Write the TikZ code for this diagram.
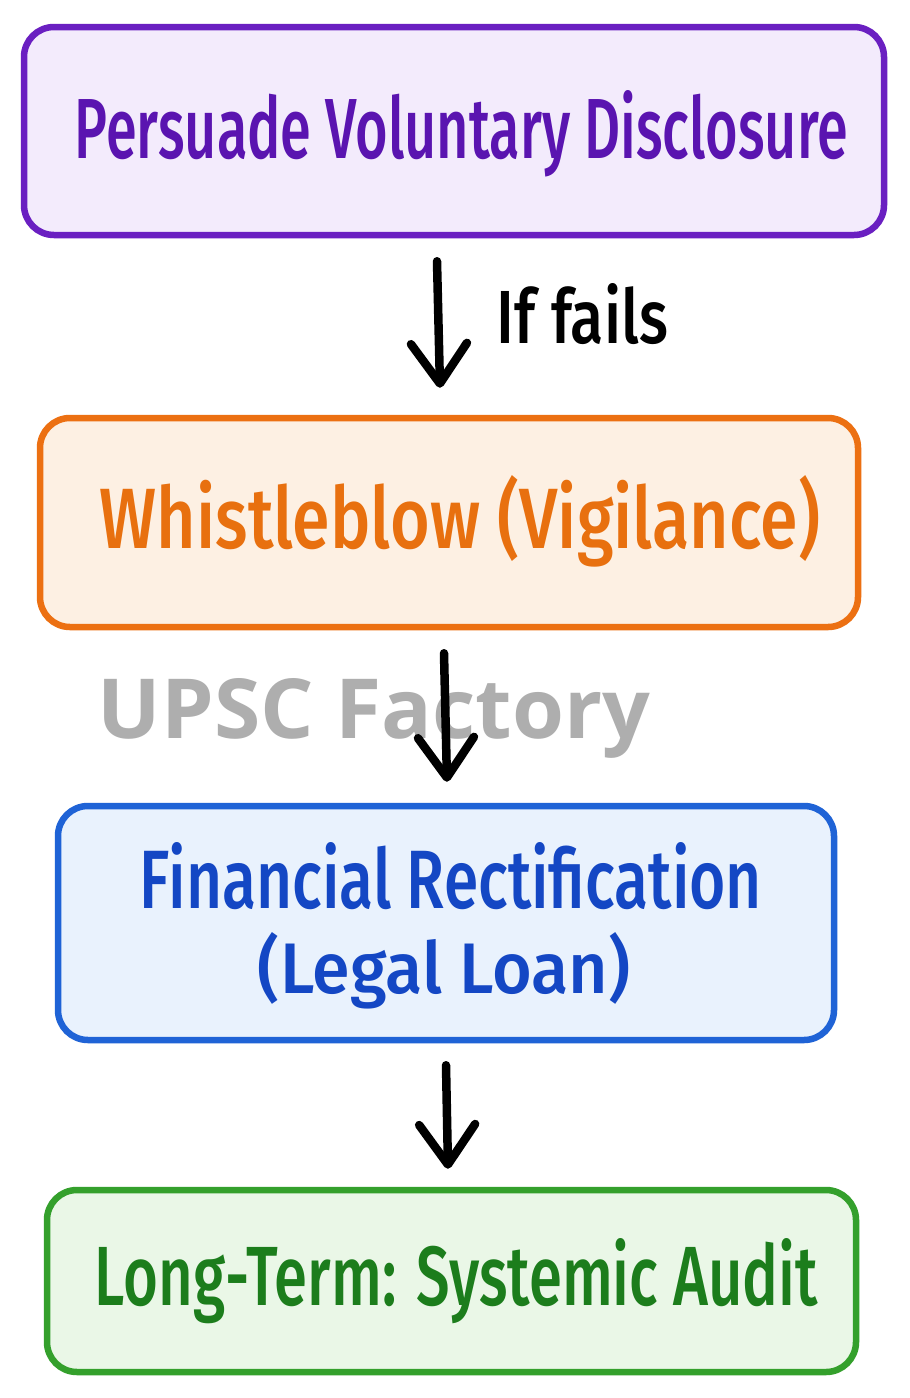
\documentclass[tikz,border=0pt]{standalone}
\usepackage{fontspec}
\usepackage{graphicx}
\setmainfont{Fira Sans Medium}
\newfontfamily\wmfont{Open Sans}
\usetikzlibrary{arrows.meta}
\definecolor{pLine}{HTML}{6A1FC1}
\definecolor{pText}{HTML}{5A14B0}
\definecolor{pFill}{HTML}{F3EBFC}
\definecolor{oLine}{HTML}{EC7012}
\definecolor{oText}{HTML}{E8700F}
\definecolor{oFill}{HTML}{FDF0E3}
\definecolor{bLine}{HTML}{1F63D6}
\definecolor{bText}{HTML}{1447C4}
\definecolor{bFill}{HTML}{E9F2FD}
\definecolor{gLine}{HTML}{34A02C}
\definecolor{gText}{HTML}{1C7D1C}
\definecolor{gFill}{HTML}{EAF7E7}
\definecolor{wmGray}{HTML}{AEAEAE}
\tikzset{
  flowbox/.style={rectangle, rounded corners=15pt, line width=3.25pt, inner sep=0pt},
  label/.style={anchor=base, inner sep=0pt, outer sep=0pt},
  arr/.style={line width=4.25pt, line cap=round, line join=round, -{Straight Barb[length=20pt,width=28pt,line cap=round,line join=round]}}
}
\begin{document}
\begin{tikzpicture}[x=0.5pt,y=-0.5pt]
\useasboundingbox[fill=white] (0,0) rectangle (910,1398);
% boxes
\node[flowbox, draw=pLine, fill=pFill, minimum width=430pt, minimum height=104pt] (b1) at (454,131) {};
\node[flowbox, draw=oLine, fill=oFill, minimum width=409pt, minimum height=104.5pt] (b2) at (449,522.5) {};
\node[flowbox, draw=bLine, fill=bFill, minimum width=388pt, minimum height=117pt] (b3) at (446,923) {};
\node[flowbox, draw=gLine, fill=gFill, minimum width=404.5pt, minimum height=91pt] (b4) at (451.5,1281) {};
% texts
\node[label, text=pText] (t1) at (461.5,158) {\resizebox{386.5pt}{34pt}{Persuade Voluntary Disclosure}};
\node[label, text=black] (t2) at (582.5,343) {\resizebox{85.5pt}{30pt}{If fails}};
\node[label, text=oText] (t3) at (460,548) {\resizebox{360pt}{36.5pt}{Whistleblow (Vigilance)}};
\node[label, text=bText] (t4) at (451,908) {\resizebox{311pt}{33pt}{Financial Rectification}};
\node[label, text=bText] (t5) at (444,993) {\resizebox{186pt}{30.5pt}{(Legal Loan)}};
\node[label, text=gText] (t6) at (456.5,1305) {\resizebox{361.5pt}{33.5pt}{Long-Term: Systemic Audit}};
% watermark
\node[label, text=wmGray] (wm) at (374,738) {\resizebox{276pt}{30pt}{\wmfont\bfseries UPSC Factory}};
% arrows
\draw[arr] ([xshift=-8.5pt,yshift=-11.5pt]b1.south) -- ([xshift=-4.5pt,yshift=13.5pt]b2.north);
\draw[arr] ([xshift=-2.5pt,yshift=-11.5pt]b2.south) -- ([xshift=0.5pt,yshift=10.5pt]b3.north);
\draw[arr] ([xshift=0pt,yshift=-11pt]b3.south) -- ([xshift=-1.75pt,yshift=9pt]b4.north);
\end{tikzpicture}
\end{document}
